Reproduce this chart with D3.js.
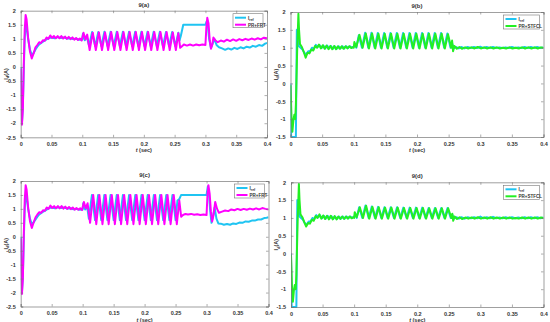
<!DOCTYPE html>
<html>
<head>
<meta charset="utf-8">
<script src="https://cdn.jsdelivr.net/npm/d3@7"></script>
<style>
  body { margin: 0; background: #fff; }
  text { font-family: "Liberation Sans", Arial, sans-serif; fill: #333; }
</style>
</head>
<body>
<svg id="chart" width="550" height="322"></svg>
<script>
// tick values
var xTicks = [0, 0.05, 0.1, 0.15, 0.2, 0.25, 0.3, 0.35, 0.4];
var yTicksAC = [-2.5, -2, -1.5, -1, -0.5, 0, 0.5, 1, 1.5, 2];
var yTicksBD = [-1.5, -1, -0.5, 0, 0.5, 1, 1.5, 2];
var titles = ["9(a)", "9(b)", "9(c)", "9(d)"];

// series, [t (sec), Id (A)]
var refA = [[0,0],[0.002,-2.0],[0.0035,-1.4],[0.005,-0.1],[0.0065,1.0],[0.008,1.5],[0.0095,1.45],[0.012,1.0],[0.015,0.62],[0.018,0.42],[0.021,0.5],[0.024,0.62],[0.027,0.72],[0.03,0.8],[0.035,0.88],[0.04,0.95],[0.045,1.02],[0.05,1.05],[0.055,1.02],[0.06,1.06],[0.065,1.03],[0.07,1.05],[0.075,1.01],[0.08,1.02],[0.085,0.99],[0.09,1.0],[0.095,0.97],[0.1,0.98],[0.101,1.18],[0.104,0.95],[0.107,1.1],[0.111,0.75],[0.116,1.24],[0.121,0.74],[0.126,1.24],[0.131,0.74],[0.136,1.25],[0.141,0.74],[0.146,1.25],[0.151,0.74],[0.156,1.25],[0.161,0.74],[0.166,1.25],[0.171,0.74],[0.176,1.25],[0.181,0.74],[0.186,1.25],[0.191,0.74],[0.196,1.25],[0.201,0.74],[0.206,1.25],[0.211,0.74],[0.216,1.25],[0.221,0.74],[0.226,1.25],[0.231,0.74],[0.236,1.24],[0.241,0.74],[0.246,1.24],[0.251,0.74],[0.256,1.22],[0.258,0.95],[0.26,1.1],[0.264,1.5],[0.3,1.5],[0.302,1.62],[0.304,1.45],[0.306,1.0],[0.309,0.68],[0.312,0.85],[0.315,0.98],[0.318,0.78],[0.322,0.7],[0.327,0.66],[0.332,0.61],[0.337,0.66],[0.342,0.62],[0.347,0.68],[0.352,0.64],[0.357,0.7],[0.362,0.66],[0.367,0.72],[0.372,0.69],[0.377,0.75],[0.382,0.72],[0.387,0.78],[0.392,0.75],[0.397,0.83],[0.4,0.85]];

var frtA = [[0,-0.05],[0.001,-1.1],[0.002,-2.05],[0.0035,-1.5],[0.005,0.1],[0.0065,1.3],[0.008,1.85],[0.0095,1.7],[0.012,1.05],[0.015,0.55],[0.018,0.3],[0.021,0.48],[0.024,0.7],[0.027,0.78],[0.03,0.88],[0.033,0.85],[0.036,0.95],[0.039,0.93],[0.042,1.05],[0.045,1.0],[0.048,1.12],[0.051,1.03],[0.054,1.1],[0.057,1.02],[0.06,1.1],[0.063,1.02],[0.066,1.1],[0.069,1.01],[0.072,1.08],[0.075,1.0],[0.078,1.07],[0.081,0.99],[0.084,1.05],[0.087,0.97],[0.09,1.03],[0.093,0.96],[0.096,1.01],[0.099,0.94],[0.102,1.22],[0.105,0.98],[0.108,1.15],[0.112,0.6],[0.117,1.22],[0.122,0.6],[0.127,1.23],[0.132,0.6],[0.137,1.23],[0.142,0.6],[0.147,1.24],[0.152,0.6],[0.157,1.24],[0.162,0.6],[0.167,1.24],[0.172,0.6],[0.177,1.24],[0.182,0.6],[0.187,1.24],[0.192,0.6],[0.197,1.24],[0.202,0.6],[0.207,1.24],[0.212,0.6],[0.217,1.24],[0.222,0.6],[0.227,1.24],[0.232,0.6],[0.237,1.24],[0.242,0.6],[0.247,1.23],[0.252,0.6],[0.256,1.2],[0.259,0.68],[0.262,0.74],[0.265,0.8],[0.27,0.76],[0.275,0.8],[0.28,0.76],[0.285,0.8],[0.29,0.77],[0.295,0.8],[0.3,0.78],[0.3015,1.4],[0.303,1.75],[0.305,1.55],[0.307,0.95],[0.309,0.65],[0.311,0.78],[0.313,1.05],[0.316,0.95],[0.32,0.88],[0.325,0.94],[0.33,0.9],[0.335,0.97],[0.34,0.92],[0.345,0.98],[0.35,0.93],[0.355,0.99],[0.36,0.95],[0.365,1.0],[0.37,0.96],[0.375,1.01],[0.38,0.97],[0.385,1.02],[0.39,0.98],[0.395,1.04],[0.4,1.02]];

var refB = [[0,0],[0.001,-1.5],[0.0085,-1.5],[0.01,1.5],[0.0115,1.45],[0.013,1.05],[0.016,1.0],[0.019,0.95],[0.022,0.85],[0.025,0.82],[0.028,0.9],[0.031,0.9],[0.034,1.0],[0.037,0.97],[0.04,1.08],[0.043,1.02],[0.046,1.07],[0.049,0.99],[0.052,1.06],[0.055,0.98],[0.058,1.06],[0.061,0.98],[0.064,1.05],[0.067,0.97],[0.07,1.04],[0.073,0.97],[0.076,1.04],[0.079,0.98],[0.082,1.04],[0.085,0.98],[0.088,1.04],[0.091,0.99],[0.094,1.04],[0.097,1.0],[0.1,1.03],[0.102,1.1],[0.104,1.0],[0.108,1.35],[0.113,1.0],[0.118,1.42],[0.123,1.0],[0.128,1.42],[0.133,1.0],[0.138,1.41],[0.143,1.0],[0.148,1.41],[0.153,1.0],[0.158,1.41],[0.163,1.0],[0.168,1.41],[0.173,1.0],[0.178,1.41],[0.183,1.0],[0.188,1.41],[0.193,1.0],[0.198,1.41],[0.203,1.0],[0.208,1.41],[0.213,1.0],[0.218,1.41],[0.223,1.0],[0.228,1.41],[0.233,1.0],[0.238,1.41],[0.243,1.0],[0.248,1.4],[0.253,1.0],[0.256,1.1],[0.258,0.98],[0.262,1.02],[0.266,0.98],[0.27,1.02],[0.275,0.98],[0.28,1.02],[0.285,0.99],[0.29,1.02],[0.295,0.99],[0.3,1.03],[0.305,0.99],[0.31,1.02],[0.315,0.99],[0.32,1.02],[0.325,0.99],[0.33,1.01],[0.335,0.99],[0.34,1.01],[0.345,0.99],[0.35,1.02],[0.355,0.99],[0.36,1.01],[0.365,0.99],[0.37,1.02],[0.375,0.99],[0.38,1.02],[0.385,0.99],[0.39,1.02],[0.395,0.99],[0.4,1.01]];

var stfclB = [[0,-0.05],[0.0015,-0.9],[0.003,-1.35],[0.0045,-1.05],[0.006,-0.88],[0.0075,-1.0],[0.0085,-0.6],[0.0105,0.9],[0.0125,1.95],[0.0135,1.5],[0.015,1.1],[0.018,1.02],[0.021,0.88],[0.024,0.72],[0.027,0.86],[0.03,0.84],[0.033,0.95],[0.036,0.92],[0.039,1.05],[0.042,1.0],[0.045,1.09],[0.048,0.98],[0.051,1.07],[0.054,0.97],[0.057,1.06],[0.06,0.96],[0.063,1.05],[0.066,0.96],[0.069,1.05],[0.072,0.96],[0.075,1.04],[0.078,0.97],[0.081,1.04],[0.084,0.97],[0.087,1.04],[0.09,0.98],[0.093,1.04],[0.096,0.99],[0.099,1.02],[0.1,1.0],[0.101,1.16],[0.104,1.02],[0.109,1.36],[0.114,1.0],[0.119,1.4],[0.124,0.98],[0.129,1.4],[0.134,0.98],[0.139,1.39],[0.144,0.98],[0.149,1.39],[0.154,0.98],[0.159,1.39],[0.164,0.98],[0.169,1.39],[0.174,0.98],[0.179,1.39],[0.184,0.98],[0.189,1.39],[0.194,0.98],[0.199,1.39],[0.204,0.98],[0.209,1.39],[0.214,0.98],[0.219,1.39],[0.224,0.98],[0.229,1.39],[0.234,0.98],[0.239,1.39],[0.244,0.98],[0.249,1.38],[0.254,1.0],[0.2555,1.2],[0.257,0.9],[0.259,1.05],[0.263,0.97],[0.267,1.02],[0.271,0.97],[0.276,1.01],[0.281,0.98],[0.286,1.01],[0.291,0.98],[0.296,1.02],[0.301,0.98],[0.306,1.01],[0.311,0.98],[0.316,1.01],[0.321,0.98],[0.326,1.01],[0.331,0.98],[0.336,1.0],[0.341,0.98],[0.346,1.01],[0.351,0.98],[0.356,1.0],[0.361,0.98],[0.366,1.01],[0.371,0.98],[0.376,1.01],[0.381,0.98],[0.386,1.01],[0.391,0.98],[0.396,1.01],[0.4,0.99]];

var refC = [[0,0],[0.002,-2.0],[0.0035,-1.4],[0.005,-0.1],[0.0065,1.0],[0.008,1.5],[0.0095,1.45],[0.012,1.0],[0.015,0.64],[0.018,0.45],[0.021,0.52],[0.024,0.62],[0.027,0.72],[0.03,0.8],[0.035,0.88],[0.04,0.95],[0.045,1.02],[0.05,1.05],[0.055,1.02],[0.06,1.06],[0.065,1.03],[0.07,1.05],[0.075,1.01],[0.08,1.02],[0.085,0.99],[0.09,1.0],[0.095,0.97],[0.1,0.98],[0.101,1.2],[0.104,0.98],[0.107,1.12],[0.11,0.65],[0.115,1.5],[0.12,0.6],[0.125,1.5],[0.13,0.6],[0.135,1.5],[0.14,0.6],[0.145,1.5],[0.15,0.6],[0.155,1.5],[0.16,0.6],[0.165,1.5],[0.17,0.6],[0.175,1.5],[0.18,0.6],[0.185,1.5],[0.19,0.6],[0.195,1.5],[0.2,0.6],[0.205,1.5],[0.21,0.6],[0.215,1.5],[0.22,0.6],[0.225,1.5],[0.23,0.6],[0.235,1.5],[0.24,0.6],[0.245,1.5],[0.25,0.6],[0.253,1.3],[0.256,1.35],[0.259,1.5],[0.3,1.5],[0.302,1.8],[0.304,1.5],[0.306,0.9],[0.308,0.5],[0.311,0.8],[0.313,1.05],[0.316,0.65],[0.319,0.48],[0.323,0.47],[0.328,0.43],[0.333,0.46],[0.338,0.43],[0.343,0.48],[0.348,0.46],[0.353,0.51],[0.358,0.5],[0.363,0.55],[0.368,0.54],[0.373,0.58],[0.378,0.58],[0.383,0.62],[0.388,0.62],[0.393,0.67],[0.397,0.68],[0.4,0.7]];

var frtC = [[0,-0.05],[0.001,-1.2],[0.002,-2.05],[0.0035,-1.5],[0.005,0.1],[0.0065,1.3],[0.008,1.85],[0.0095,1.7],[0.012,1.05],[0.015,0.55],[0.018,0.32],[0.021,0.52],[0.024,0.7],[0.027,0.8],[0.03,0.88],[0.033,0.86],[0.036,0.95],[0.039,0.93],[0.042,1.05],[0.045,1.0],[0.048,1.12],[0.051,1.03],[0.054,1.1],[0.057,1.02],[0.06,1.1],[0.063,1.02],[0.066,1.1],[0.069,1.01],[0.072,1.08],[0.075,1.0],[0.078,1.07],[0.081,0.99],[0.084,1.05],[0.087,0.97],[0.09,1.03],[0.093,0.97],[0.096,1.02],[0.099,0.96],[0.102,1.25],[0.105,1.02],[0.108,1.2],[0.112,0.5],[0.117,1.5],[0.122,0.45],[0.127,1.5],[0.132,0.45],[0.137,1.5],[0.142,0.45],[0.147,1.5],[0.152,0.45],[0.157,1.5],[0.162,0.45],[0.167,1.5],[0.172,0.45],[0.177,1.5],[0.182,0.45],[0.187,1.5],[0.192,0.45],[0.197,1.5],[0.202,0.45],[0.207,1.5],[0.212,0.45],[0.217,1.5],[0.222,0.45],[0.227,1.5],[0.232,0.45],[0.237,1.5],[0.242,0.45],[0.247,1.5],[0.252,0.45],[0.256,1.3],[0.259,0.72],[0.262,0.78],[0.266,0.82],[0.27,0.8],[0.275,0.82],[0.28,0.79],[0.285,0.81],[0.29,0.78],[0.295,0.8],[0.3,0.78],[0.3015,1.5],[0.303,1.85],[0.305,1.55],[0.307,0.9],[0.309,0.55],[0.311,0.75],[0.314,1.25],[0.317,1.0],[0.32,0.86],[0.325,0.9],[0.33,0.94],[0.335,0.92],[0.34,0.98],[0.345,0.95],[0.35,1.0],[0.355,0.96],[0.36,1.0],[0.365,0.97],[0.37,1.01],[0.375,0.98],[0.38,1.02],[0.385,0.98],[0.39,1.03],[0.395,1.0],[0.4,0.98]];

var refD = [[0,0],[0.001,-1.5],[0.0085,-1.5],[0.01,1.5],[0.0115,1.45],[0.013,1.05],[0.016,1.0],[0.019,0.95],[0.022,0.85],[0.025,0.82],[0.028,0.9],[0.031,0.9],[0.034,1.0],[0.037,0.97],[0.04,1.08],[0.043,1.02],[0.046,1.07],[0.049,0.99],[0.052,1.06],[0.055,0.98],[0.058,1.06],[0.061,0.98],[0.064,1.05],[0.067,0.97],[0.07,1.04],[0.073,0.97],[0.076,1.04],[0.079,0.98],[0.082,1.04],[0.085,0.98],[0.088,1.04],[0.091,0.99],[0.094,1.04],[0.097,1.0],[0.1,1.03],[0.102,1.1],[0.104,1.0],[0.108,1.3],[0.113,1.0],[0.118,1.35],[0.123,1.0],[0.128,1.32],[0.133,1.0],[0.138,1.31],[0.143,1.0],[0.148,1.3],[0.153,1.0],[0.158,1.3],[0.163,1.0],[0.168,1.3],[0.173,1.0],[0.178,1.29],[0.183,1.0],[0.188,1.29],[0.193,1.0],[0.198,1.29],[0.203,1.0],[0.208,1.29],[0.213,1.0],[0.218,1.28],[0.223,1.0],[0.228,1.28],[0.233,1.0],[0.238,1.28],[0.243,1.0],[0.248,1.28],[0.253,1.0],[0.256,1.08],[0.258,0.98],[0.262,1.02],[0.266,0.98],[0.27,1.02],[0.275,0.98],[0.28,1.02],[0.285,0.99],[0.29,1.02],[0.295,0.99],[0.3,1.04],[0.305,0.99],[0.31,1.02],[0.315,0.99],[0.32,1.03],[0.325,0.99],[0.33,1.01],[0.335,0.99],[0.34,1.02],[0.345,0.99],[0.35,1.02],[0.355,0.99],[0.36,1.01],[0.365,0.99],[0.37,1.02],[0.375,0.99],[0.38,1.02],[0.385,0.99],[0.39,1.02],[0.395,0.99],[0.4,1.01]];

var stfclD = [[0,-0.05],[0.0015,-0.9],[0.003,-1.35],[0.0045,-1.05],[0.006,-0.88],[0.0075,-1.0],[0.0085,-0.6],[0.0105,0.9],[0.0125,1.95],[0.0135,1.5],[0.015,1.1],[0.018,1.02],[0.021,0.88],[0.024,0.76],[0.027,0.86],[0.03,0.84],[0.033,0.95],[0.036,0.92],[0.039,1.05],[0.042,1.0],[0.045,1.1],[0.048,0.98],[0.051,1.07],[0.054,0.97],[0.057,1.06],[0.06,0.96],[0.063,1.06],[0.066,0.96],[0.069,1.05],[0.072,0.96],[0.075,1.04],[0.078,0.97],[0.081,1.04],[0.084,0.97],[0.087,1.04],[0.09,0.98],[0.093,1.04],[0.096,0.99],[0.099,1.02],[0.1,1.0],[0.101,1.16],[0.104,1.02],[0.109,1.3],[0.114,1.0],[0.119,1.34],[0.124,0.98],[0.129,1.31],[0.134,0.98],[0.139,1.3],[0.144,0.98],[0.149,1.29],[0.154,0.98],[0.159,1.29],[0.164,0.98],[0.169,1.29],[0.174,0.98],[0.179,1.28],[0.184,0.98],[0.189,1.28],[0.194,0.98],[0.199,1.28],[0.204,0.98],[0.209,1.28],[0.214,0.98],[0.219,1.27],[0.224,0.98],[0.229,1.27],[0.234,0.98],[0.239,1.27],[0.244,0.98],[0.249,1.27],[0.254,1.0],[0.2555,1.12],[0.257,0.92],[0.259,1.04],[0.263,0.97],[0.267,1.02],[0.271,0.97],[0.276,1.01],[0.281,0.98],[0.286,1.01],[0.291,0.98],[0.296,1.02],[0.301,0.98],[0.306,1.01],[0.311,0.98],[0.316,1.02],[0.321,0.98],[0.326,1.01],[0.331,0.98],[0.336,1.01],[0.341,0.98],[0.346,1.01],[0.351,0.98],[0.356,1.0],[0.361,0.98],[0.366,1.01],[0.371,0.98],[0.376,1.01],[0.381,0.98],[0.386,1.01],[0.391,0.98],[0.396,1.01],[0.4,0.99]];

var cyan = "#1fc4f2";
var magenta = "#ff00ff";
var green = "#22f022";

var panels = [
  { x0: 20.7, x1: 267, y0: 10.7, y1: 137.3, yTicks: yTicksAC, title: titles[0],
    series: [refA, frtA], names: ["ref", "PR+FRT"], colors: [cyan, magenta], legW: 30 },
  { x0: 290.5, x1: 543.5, y0: 12, y1: 137, yTicks: yTicksBD, title: titles[1],
    series: [refB, stfclB], names: ["ref", "PR+STFCL"], colors: [cyan, green], legW: 36 },
  { x0: 20.7, x1: 268.5, y0: 181, y1: 306.5, yTicks: yTicksAC, title: titles[2],
    series: [refC, frtC], names: ["ref", "PR+FRT"], colors: [cyan, magenta], legW: 30 },
  { x0: 291, x1: 543.5, y0: 182.3, y1: 307, yTicks: yTicksBD, title: titles[3],
    series: [refD, stfclD], names: ["ref", "PR+STFCL"], colors: [cyan, green], legW: 36 }
];

var svg = d3.select("#chart");
svg.append("rect").attr("width", 550).attr("height", 322).attr("fill", "#fff");

panels.forEach(function(p) {
  var x = d3.scaleLinear().domain([0, 0.4]).range([p.x0, p.x1]);
  var y = d3.scaleLinear().domain([p.yTicks[0], 2]).range([p.y1, p.y0]);
  var g = svg.append("g");
  var w = p.x1 - p.x0, h = p.y1 - p.y0;

  var clipId = "clip" + Math.round(p.x0) + "_" + Math.round(p.y0);
  g.append("clipPath").attr("id", clipId)
    .append("rect").attr("x", p.x0).attr("y", p.y0 - 1).attr("width", w).attr("height", h + 2);

  // data lines
  var line = d3.line().x(d => x(d[0])).y(d => y(d[1]));
  p.series.forEach(function(s, i) {
    g.append("path")
      .datum(s)
      .attr("clip-path", "url(#" + clipId + ")")
      .attr("fill", "none")
      .attr("stroke", p.colors[i])
      .attr("stroke-width", 2)
      .attr("stroke-linejoin", "round")
      .attr("d", line);
  });

  // axes, matlab style: inward ticks on all four sides
  var fmt = d => String(+d.toFixed(2));
  var axB = g.append("g").attr("transform", "translate(0," + p.y1 + ")")
    .call(d3.axisBottom(x).tickValues(xTicks).tickFormat(fmt).tickSize(-2.5).tickPadding(5));
  var axT = g.append("g").attr("transform", "translate(0," + p.y0 + ")")
    .call(d3.axisTop(x).tickValues(xTicks).tickFormat("").tickSize(-2.5));
  var axL = g.append("g").attr("transform", "translate(" + p.x0 + ",0)")
    .call(d3.axisLeft(y).tickValues(p.yTicks).tickFormat(fmt).tickSize(-2.5).tickPadding(5));
  var axR = g.append("g").attr("transform", "translate(" + p.x1 + ",0)")
    .call(d3.axisRight(y).tickValues(p.yTicks).tickFormat("").tickSize(-2.5));
  [axB, axT, axL, axR].forEach(function(a) {
    a.select(".domain").attr("stroke", "#777").attr("stroke-width", 0.7);
    a.selectAll(".tick line").attr("stroke", "#777").attr("stroke-width", 0.6);
    a.selectAll("text").attr("font-size", 5.5).attr("font-weight", "bold").attr("fill", "#333");
  });

  // title
  g.append("text")
    .attr("x", (p.x0 + p.x1) / 2).attr("y", p.y0 - 4)
    .attr("text-anchor", "middle").attr("font-size", 6).attr("font-weight", "bold")
    .text(p.title);

  // x label
  var xl = g.append("text")
    .attr("x", (p.x0 + p.x1) / 2).attr("y", p.y1 + 15)
    .attr("text-anchor", "middle").attr("font-size", 5.5).attr("font-weight", "bold");
  xl.append("tspan").attr("font-style", "italic").text("t");
  xl.append("tspan").text(" (sec)");

  // y label
  var yl = g.append("text")
    .attr("transform", "translate(" + (p.x0 - 13) + "," + ((p.y0 + p.y1) / 2) + ") rotate(-90)")
    .attr("text-anchor", "middle").attr("font-size", 5.5).attr("font-weight", "bold");
  yl.append("tspan").text("I");
  yl.append("tspan").attr("font-size", 4).attr("dy", 1.5).text("d");
  yl.append("tspan").attr("dy", -1.5).text("(A)");

  // legend
  var lx = p.x1 - p.legW - 4, ly = p.y0 + 3;
  var leg = g.append("g");
  leg.append("rect").attr("x", lx).attr("y", ly).attr("width", p.legW).attr("height", 14)
    .attr("fill", "#fff").attr("stroke", "#777").attr("stroke-width", 0.6);
  p.names.forEach(function(n, i) {
    var yy = ly + 4 + i * 7;
    leg.append("line").attr("x1", lx + 2).attr("x2", lx + 13).attr("y1", yy).attr("y2", yy)
      .attr("stroke", p.colors[i]).attr("stroke-width", 2);
    var t = leg.append("text").attr("x", lx + 15).attr("y", yy + 1.8)
      .attr("font-size", 4.5).attr("font-weight", "bold");
    if (n === "ref") {
      t.append("tspan").text("I");
      t.append("tspan").attr("font-size", 3.5).attr("dy", 1.2).text("ref");
    } else {
      t.text(n);
    }
  });
});
</script>
</body>
</html>
